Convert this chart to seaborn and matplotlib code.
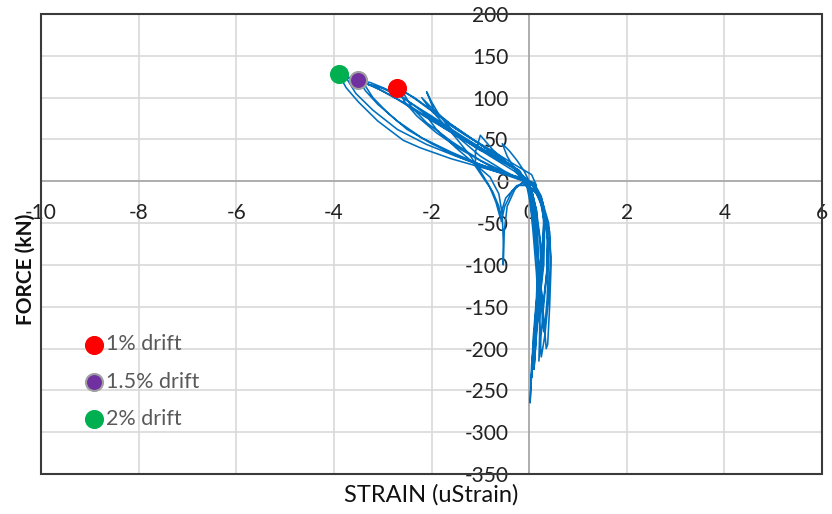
import matplotlib
matplotlib.use("Agg")
import matplotlib.pyplot as plt
from matplotlib.patches import Rectangle
import numpy as np
import pandas as pd
import seaborn as sns

# Hysteresis record: (strain in uStrain, force in kN), one list per loading cycle
cycle_1 = [(0.00, 0), (-0.10, 12), (-0.25, 25), (-0.40, 36), (-0.55, 45),
           (-0.45, 30), (-0.30, 15), (-0.15, 3), (-0.02, -5),
           (0.05, -15), (0.10, -28), (0.12, -40),
           (0.08, -25), (0.03, -10), (0.00, 0)]
cycle_2 = [(-0.15, 8), (-0.45, 22), (-0.75, 38), (-1.00, 55),
           (-1.10, 35), (-1.10, 18), (-0.95, 5), (-0.75, -12), (-0.62, -30), (-0.57, -48),
           (-0.50, -30), (-0.35, -12), (-0.15, -2), (0.05, -10),
           (0.15, -35), (0.17, -55), (0.15, -70),
           (0.10, -45), (0.05, -20), (0.00, -3)]
cycle_3 = [(-0.30, 12), (-0.80, 30), (-1.40, 52), (-1.85, 70), (-2.15, 82),
           (-1.90, 62), (-1.50, 40), (-1.10, 20), (-0.80, 5), (-0.62, -15),
           (-0.55, -40), (-0.53, -70), (-0.53, -100),
           (-0.51, -60), (-0.45, -30), (-0.28, -8), (-0.05, 2)]
cycle_4 = [(0.15, -5), (0.05, 8), (-0.30, 20), (-0.80, 38), (-1.30, 55),
           (-1.70, 70), (-1.95, 85), (-2.10, 107),
           (-2.00, 95), (-1.85, 80), (-1.50, 55), (-1.00, 30), (-0.50, 12), (-0.10, 0),
           (0.15, -15), (0.30, -35), (0.38, -70), (0.36, -110), (0.30, -140), (0.28, -150),
           (0.22, -110), (0.15, -70), (0.08, -35), (0.02, -12)]
cycle_5 = [(-0.20, 12), (-0.70, 32), (-1.20, 52), (-1.60, 68), (-1.95, 85), (-2.20, 100),
           (-2.05, 88), (-1.85, 75), (-1.50, 52), (-1.20, 30), (-1.00, 12), (-0.82, -5),
           (-0.68, -25), (-0.60, -42),
           (-0.48, -20), (-0.25, -5), (0.00, -5),
           (0.20, -18), (0.35, -45), (0.40, -90), (0.37, -140), (0.32, -175), (0.30, -180),
           (0.22, -130), (0.14, -80), (0.06, -40), (0.00, -10)]
cycle_6 = [(-0.25, 14), (-0.80, 36), (-1.40, 60), (-1.90, 80), (-2.30, 97), (-2.55, 107), (-2.70, 112),
           (-2.55, 95), (-2.30, 78), (-1.90, 58), (-1.40, 38), (-0.80, 18), (-0.30, 5), (0.05, -3),
           (0.25, -20), (0.40, -50), (0.44, -90), (0.40, -140), (0.32, -185), (0.25, -210),
           (0.20, -160), (0.15, -110), (0.08, -60), (0.02, -25), (-0.05, -5)]
cycle_7 = [(-0.30, 16), (-0.90, 40), (-1.50, 63), (-2.00, 85), (-2.35, 100), (-2.60, 108),
           (-2.40, 88), (-2.10, 70), (-1.60, 48), (-1.00, 25), (-0.40, 8), (0.05, -3),
           (0.25, -25), (0.42, -60), (0.45, -100), (0.42, -150), (0.38, -195), (0.35, -200),
           (0.28, -150), (0.20, -100), (0.12, -55), (0.04, -20), (-0.05, -2)]
cycle_8 = [(-0.20, 13), (-0.60, 28), (-1.00, 37), (-1.50, 55), (-1.82, 67), (-2.30, 88),
           (-2.64, 103), (-3.00, 112), (-3.25, 118), (-3.50, 121),
           (-3.35, 108), (-3.10, 92), (-2.70, 72), (-2.20, 52), (-1.60, 35), (-1.00, 20),
           (-0.50, 9), (-0.10, 2), (0.10, -5),
           (0.25, -20), (0.32, -50), (0.30, -100), (0.20, -150), (0.10, -200), (0.05, -235),
           (0.08, -190), (0.15, -140), (0.18, -90), (0.14, -45), (0.06, -15), (0.00, -3)]
cycle_9 = [(-0.25, 14), (-0.80, 33), (-1.40, 55), (-2.00, 78), (-2.60, 100), (-3.00, 111), (-3.40, 118),
           (-3.20, 100), (-2.90, 82), (-2.50, 62), (-2.00, 45), (-1.40, 28), (-0.80, 14),
           (-0.30, 4), (0.10, -4),
           (0.28, -25), (0.38, -60), (0.36, -110), (0.28, -160), (0.20, -215),
           (0.22, -170), (0.25, -120), (0.22, -70), (0.12, -30), (0.02, -8)]
cycle_10 = [(-0.20, 12), (-0.70, 30), (-1.30, 50), (-1.90, 70), (-2.50, 92), (-3.00, 108),
            (-3.50, 121), (-3.90, 128),
            (-3.75, 112), (-3.50, 95), (-3.10, 72), (-2.58, 49), (-2.23, 40), (-1.60, 27),
            (-1.00, 17), (-0.50, 9), (-0.18, 5), (0.10, -2),
            (0.25, -18), (0.30, -50), (0.25, -100), (0.15, -160), (0.05, -220), (0.02, -265),
            (0.06, -220), (0.12, -170), (0.18, -120), (0.18, -70), (0.10, -30), (0.02, -8)]
cycle_11 = [(-0.30, 15), (-0.90, 35), (-1.50, 55), (-2.10, 76), (-2.70, 98), (-3.20, 114), (-3.75, 124),
            (-3.55, 105), (-3.20, 85), (-2.70, 62), (-2.10, 44), (-1.50, 30), (-0.90, 18),
            (-0.40, 8), (0.00, 0),
            (0.20, -15), (0.30, -45), (0.28, -100), (0.18, -160), (0.10, -225),
            (0.15, -180), (0.22, -130), (0.25, -80), (0.15, -35), (0.05, -10)]

# Peak points marked for each drift level
drift_labels = ["1% drift", "1.5% drift", "2% drift"]
drift_strain = [-2.70, -3.50, -3.90]
drift_force = [112, 121, 128]
drift_colors = ["#FF0000", "#7030A0", "#00B050"]

x_ticks = [-10, -8, -6, -4, -2, 0, 2, 4, 6]
y_ticks = [-350, -300, -250, -200, -150, -100, -50, 0, 50, 100, 150, 200]

cycles = [cycle_1, cycle_2, cycle_3, cycle_4, cycle_5, cycle_6,
          cycle_7, cycle_8, cycle_9, cycle_10, cycle_11]
record = pd.DataFrame([p for c in cycles for p in c], columns=["strain", "force"])
peaks = pd.DataFrame({"strain": drift_strain, "force": drift_force, "drift": drift_labels})

sns.set_theme(style="white")
plt.rcParams["font.family"] = ["Lato", "DejaVu Sans"]

fig = plt.figure(figsize=(8.32, 5.14), dpi=100)
ax = fig.add_axes([41 / 832, 1 - 474 / 514, 781 / 832, 460 / 514])

ax.set_xlim(-10, 6)
ax.set_ylim(-350, 200)
ax.set_xticks(x_ticks)
ax.set_yticks(y_ticks)
ax.set_xticklabels([str(v) for v in x_ticks])
ax.set_yticklabels([str(v) for v in y_ticks])
ax.grid(True, color="#d9d9d9", linewidth=1.2)
ax.set_axisbelow(True)

sns.lineplot(data=record, x="strain", y="force", sort=False, estimator=None,
             color="#0070C0", linewidth=1.15, ax=ax, zorder=3)

for lab, col in zip(drift_labels, drift_colors):
    sub = peaks[peaks["drift"] == lab]
    edge = "#a0a0a0" if lab == "1.5% drift" else col
    sns.scatterplot(data=sub, x="strain", y="force", color=col, s=150,
                    edgecolor=edge, linewidth=1.5, ax=ax, zorder=4, label=lab)

# axes crossing at the origin
for side in ["top", "right"]:
    ax.spines[side].set_visible(False)
for side in ["left", "bottom"]:
    ax.spines[side].set_position(("data", 0))
    ax.spines[side].set_color("#a6a6a6")
    ax.spines[side].set_linewidth(1.2)
    ax.spines[side].set_zorder(2.5)
ax.tick_params(axis="x", length=0, pad=16, labelsize=15, labelcolor="#222222")
ax.tick_params(axis="y", length=0, pad=15, labelsize=15, labelcolor="#222222")
ax.set_xlabel("")
ax.set_ylabel("")

# plot-area border
ax.add_patch(Rectangle((0, 0), 1, 1, transform=ax.transAxes, fill=False,
                       edgecolor="#3a3a3a", linewidth=1.5, clip_on=False, zorder=6))

fig.text(431 / 832, 1 - 495 / 514, "STRAIN (uStrain)", ha="center", va="center",
         fontsize=17, color="#111111")
fig.text(26 / 832, 1 - 269 / 514, "FORCE (kN)", ha="center", va="center",
         rotation=90, fontsize=15, fontweight="bold", color="#111111")

leg = ax.legend(loc="upper left", bbox_to_anchor=(0.040, 0.322), frameon=False,
                fontsize=15.5, labelspacing=0.8, handletextpad=-0.04,
                handlelength=1.2, borderaxespad=0)
for t in leg.get_texts():
    t.set_color("#595959")

fig.savefig("out.png", dpi=100)
